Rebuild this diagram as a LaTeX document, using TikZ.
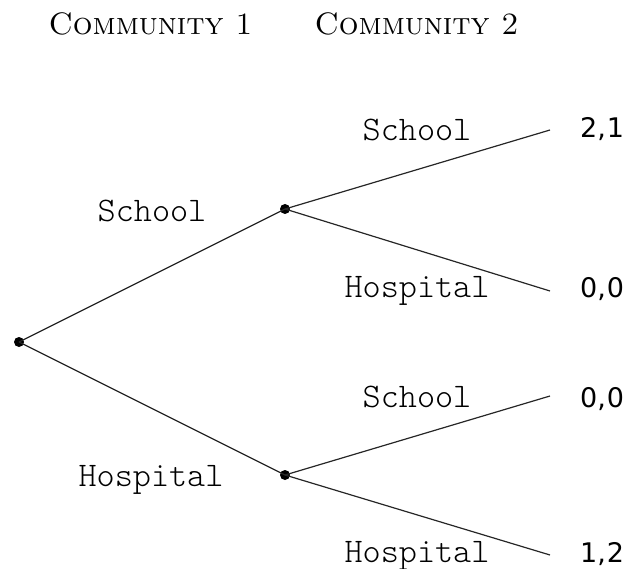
\documentclass[tikz,border=0pt]{standalone}
\usepackage{fontspec}
\setmonofont{Latin Modern Mono Light}
\newfontfamily\payfont{DejaVu Sans}
\begin{document}
\begin{tikzpicture}[x=1pt,y=-1pt,
  dot/.style={circle,fill=black,inner sep=0pt,minimum size=10pt},
  branch/.style={line width=1.2pt,draw=black!85},
  act/.style={anchor=base,inner sep=0pt,font=\fontsize{34.5}{38}\selectfont\ttfamily},
  hdr/.style={anchor=base,inner sep=0pt,font=\fontsize{31}{34}\selectfont\scshape},
  pay/.style={anchor=base west,inner sep=0pt,font=\fontsize{27}{30}\selectfont\payfont}]
\useasboundingbox (0,0) rectangle (626,569);
% headers
\node[hdr] (h1) at (150.5,35) {Community 1};
\node[hdr] (h2) at (416.5,35) {Community 2};
% decision nodes
\node[dot] (root) at (19,342) {};
\node[dot] (a) at (285,209) {};
\node[dot] (b) at (285,475) {};
% leaves
\coordinate (aa) at (550,130);
\coordinate (ab) at (550,291);
\coordinate (ba) at (550,396);
\coordinate (bb) at (550,555);
% branches
\draw[branch] (root.center) -- (a.center);
\draw[branch] (root.center) -- (b.center);
\draw[branch] (a.center) -- (aa);
\draw[branch] (a.center) -- (ab);
\draw[branch] (b.center) -- (ba);
\draw[branch] (b.center) -- (bb);
% action labels
\node[act] (l1) at (152,222) {School};
\node[act] (l2) at (151,486) {Hospital};
\node[act] (l3) at (417,141) {School};
\node[act] (l4) at (417,298) {Hospital};
\node[act] (l5) at (417,407) {School};
\node[act] (l6) at (417,562) {Hospital};
% payoffs
\node[pay] (p1) at (580,138) {2,\hspace{1pt}1};
\node[pay] (p2) at (580,298) {0,\hspace{1pt}0};
\node[pay] (p3) at (580,407) {0,\hspace{1pt}0};
\node[pay] (p4) at (580,562) {1,\hspace{1pt}2};
\end{tikzpicture}
\end{document}
